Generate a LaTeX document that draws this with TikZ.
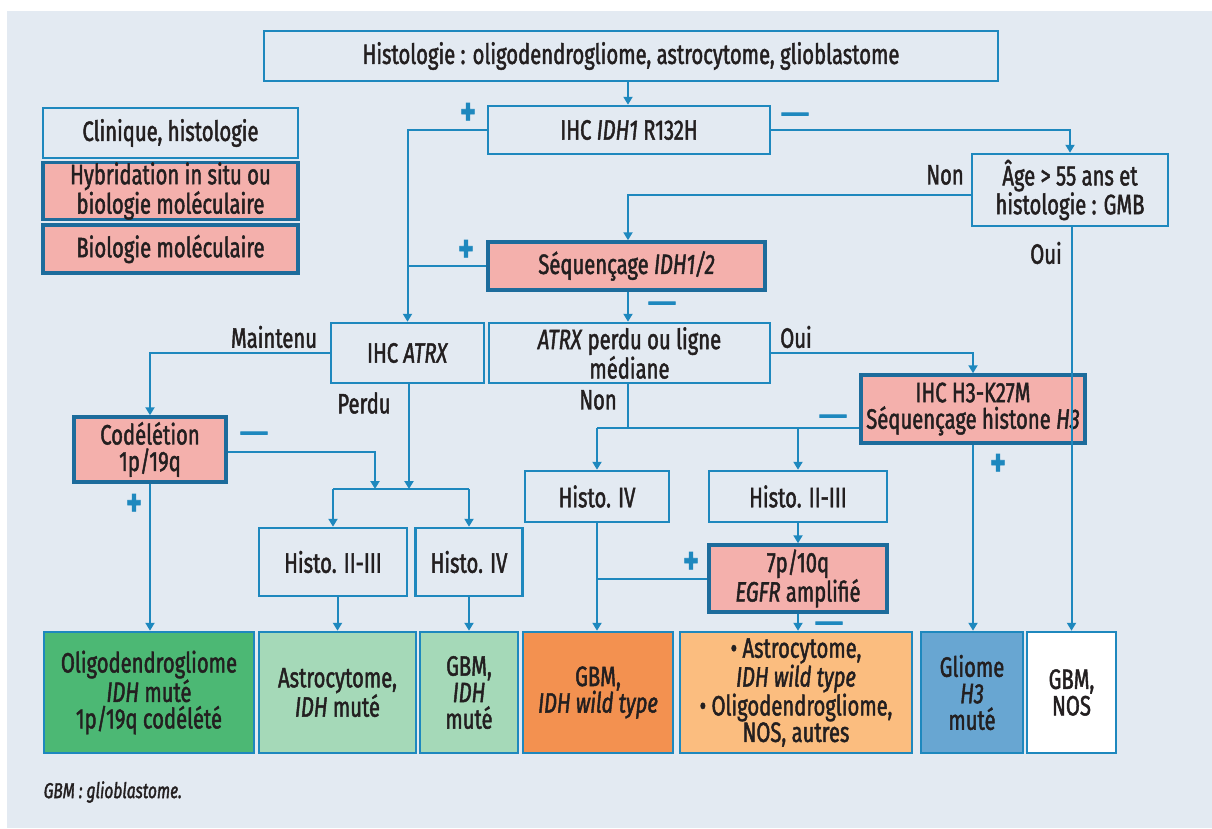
\documentclass[tikz,border=0pt]{standalone}
\usepackage{fontspec}
\setmainfont{Fira Sans}[FakeStretch=0.723,FakeBold=1.6]
\newfontfamily\dashfont{Fira Sans}[FakeStretch=1.6,FakeBold=4]
\usetikzlibrary{arrows.meta}
\definecolor{bg}{HTML}{E3EAF2}
\definecolor{bl}{HTML}{1E88BE}
\definecolor{dbl}{HTML}{1D6C9C}
\definecolor{pk}{HTML}{F4B0AC}
\definecolor{txt}{HTML}{231F20}
\definecolor{dgreen}{HTML}{4CB874}
\definecolor{lgreen}{HTML}{A5D9B8}
\definecolor{orng}{HTML}{F39150}
\definecolor{lorng}{HTML}{FBBD7F}
\definecolor{blu}{HTML}{68A6D2}
\begin{document}
\begin{tikzpicture}[x=1pt,y=-1pt,
 every node/.style={text=txt,font=\fontsize{28}{26.5}\selectfont},
 box/.style={draw=bl,line width=2.5pt,fill=bg,inner sep=0pt,align=center},
 pbox/.style={box,draw=dbl,line width=3.5pt,fill=pk},
 res/.style={box,minimum height=121pt},
 arr/.style={draw=bl,line width=2pt,-{Triangle[length=8pt,width=9pt]}},
 ln/.style={draw=bl,line width=2pt},
 sgn/.style={text=bl,font=\fontsize{40}{40}\selectfont\bfseries,inner sep=0pt},
 dsh/.style={text=bl,font=\dashfont\fontsize{22}{22}\selectfont\bfseries,inner sep=0pt,anchor=base},
 lbl/.style={inner sep=0pt}]
\fill[white] (0,0) rectangle (1212,828);
\fill[bg] (7,11) rectangle (1212,828);
\useasboundingbox (0,0) rectangle (1212,828);
% nodes
\node[box,minimum width=734pt,minimum height=50pt] (histo) at (631,56) {Histologie : oligodendrogliome, astrocytome, glioblastome};
\node[box,minimum width=282pt,minimum height=48pt] (idh1) at (629,130) {IHC \textit{IDH1} R132H};
\node[box,minimum width=196pt,minimum height=72pt] (age) at (1070,190) {Âge > 55 ans et\\histologie : GMB};
\node[pbox,minimum width=277pt,minimum height=48pt] (seq) at (626.5,266) {Séquençage \textit{IDH1/2}};
\node[box,minimum width=255pt,minimum height=50pt] (leg1) at (170.5,133) {Clinique, histologie};
\node[pbox,minimum width=255pt,minimum height=56pt] (leg2) at (170.5,191) {Hybridation in situ ou\\biologie moléculaire};
\node[pbox,minimum width=255pt,minimum height=48pt] (leg3) at (170.5,249) {Biologie moléculaire};
\node[box,minimum width=153pt,minimum height=60pt] (atrx) at (407.5,353) {IHC \textit{ATRX}};
\node[box,minimum width=281pt,minimum height=60pt] (atrxp) at (629.5,353) {\textit{ATRX} perdu ou ligne\\médiane};
\node[pbox,minimum width=152pt,minimum height=65pt] (cod) at (150,449.5) {Codélétion\\1p/19q};
\node[pbox,minimum width=224pt,minimum height=68pt] (h3) at (973,409) {IHC H3-K27M\\Séquençage histone \textit{H3}};
\node[box,minimum width=148pt,minimum height=68pt] (h23a) at (333,562) {Histo. II-III};
\node[box,minimum width=107pt,minimum height=68pt] (h4a) at (469,562) {Histo. IV};
\node[box,minimum width=144pt,minimum height=51pt] (h4b) at (597,496.5) {Histo. IV};
\node[box,minimum width=178pt,minimum height=51pt] (h23b) at (798,496.5) {Histo. II-III};
\node[pbox,minimum width=178pt,minimum height=67pt] (egfr) at (798,578.5) {7p/10q\\\textit{EGFR} amplifié};
\node[res,fill=dgreen,minimum width=210pt] (r1) at (149,692.5) {Oligodendrogliome\\\textit{IDH} muté\\1p/19q codélété};
\node[res,fill=lgreen,minimum width=157pt] (r2) at (337.5,692.5) {Astrocytome,\\\textit{IDH} muté};
\node[res,fill=lgreen,minimum width=98pt] (r3) at (469,692.5) {GBM,\\\textit{IDH}\\muté};
\node[res,fill=orng,minimum width=150pt] (r4) at (598,692.5) {GBM,\\\textit{IDH wild type}};
\node[res,fill=lorng,minimum width=232pt] (r5) at (796,692.5) {\textbullet\ Astrocytome,\\\textit{IDH wild type}\\\textbullet\ Oligodendrogliome,\\NOS, autres};
\node[res,fill=blu,minimum width=102pt] (r6) at (972,692.5) {Gliome\\\textit{H3}\\muté};
\node[res,fill=white,minimum width=89pt] (r7) at (1071.5,692.5) {GBM,\\NOS};
\node[lbl,anchor=west,font=\fontsize{21.5}{22}\selectfont\itshape] (foot) at (43.5,792) {GBM : glioblastome.};
% labels
\node[sgn] (p1) at (468,114) {+};
\node[sgn] (p2) at (466,251) {+};
\node[sgn] (p3) at (134,505) {+};
\node[sgn] (p4) at (998,465) {+};
\node[sgn] (p5) at (691,563) {+};
\node[dsh] (m1) at (795,121) {—};
\node[dsh] (m2) at (662,310) {—};
\node[dsh] (m3) at (254,440) {—};
\node[dsh] (m4) at (833,423) {—};
\node[dsh] (m5) at (829,630) {—};
\node[lbl] (l1) at (945,175) {Non};
\node[lbl] (l2) at (1046,253) {Oui};
\node[lbl] (l3) at (274,337) {Maintenu};
\node[lbl] (l4) at (364,403) {Perdu};
\node[lbl] (l5) at (796,337) {Oui};
\node[lbl] (l6) at (598,400) {Non};
% helper coordinates
\coordinate (xA) at (628,0);
\coordinate (jb) at (409,489);
\coordinate (jc) at (375,489);
\coordinate (jn) at (0,428);
% connectors
\draw[arr] (histo.south -| xA) -- (idh1.north -| xA);
\draw[arr] (idh1.west) -| (atrx.north);
\draw[ln] (seq.west) -- (seq.west -| atrx.north);
\draw[arr] (idh1.east) -| (age.north);
\draw[arr] ([yshift=-5pt]age.west) -| (seq.north -| xA);
\draw[arr] (seq.south -| xA) -- (atrxp.north -| xA);
\draw[arr] (age.south -| r7.north) -- (r7.north);
\draw[arr] (atrx.west) -| (cod.north);
\draw[arr] (atrx.south -| jb) -- (jb);
\draw[arr] ([yshift=-2pt]cod.east) -| (jc);
\draw[ln] (h23a.north |- jb) -- (h4a.north |- jb);
\draw[arr] (h23a.north |- jb) -- (h23a.north);
\draw[arr] (h4a.north |- jb) -- (h4a.north);
\draw[arr] (cod.south) -- (cod.south |- r1.north);
\draw[arr] (r2.north |- h23a.south) -- (r2.north);
\draw[arr] (r3.north |- h4a.south) -- (r3.north);
\draw[arr] (atrxp.east) -| (h3.north);
\draw[ln] (atrxp.south -| xA) -- (xA |- jn);
\draw[ln] (h4b.north |- jn) -- (h3.west |- jn);
\draw[arr] (h4b.north |- jn) -- (h4b.north);
\draw[arr] (h23b.north |- jn) -- (h23b.north);
\draw[arr] (h3.south) -- (h3.south |- r6.north);
\draw[arr] (h4b.south) -- (h4b.south |- r4.north);
\draw[ln] (egfr.west) -- (egfr.west -| h4b.south);
\draw[arr] (h23b.south) -- (egfr.north);
\draw[arr] (egfr.south) -- (egfr.south |- r5.north);
\end{tikzpicture}
\end{document}
